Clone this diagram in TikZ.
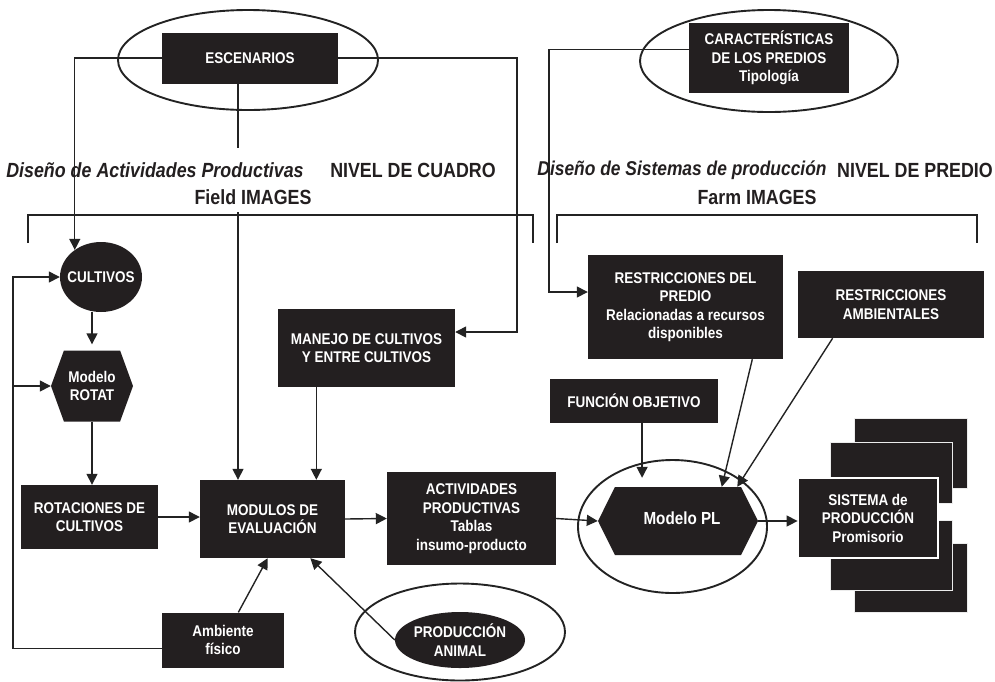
\documentclass[tikz,border=0pt]{standalone}
\usepackage{fontspec}
\newfontfamily\nar[FakeStretch=0.87]{Liberation Sans}
\usetikzlibrary{shapes.geometric,shapes.symbols,arrows.meta}
\definecolor{boxc}{RGB}{35,31,32}
\definecolor{linec}{RGB}{35,35,35}
\begin{document}
\begin{tikzpicture}[x=1pt,y=-1pt,
  box/.style={fill=boxc, text=white, font=\nar\bfseries\fontsize{15.5}{18.5}\selectfont, align=center, inner sep=0pt},
  txt/.style={text=white, font=\nar\bfseries\fontsize{15.5}{18.5}\selectfont, align=center, inner sep=0pt},
  head/.style={text=boxc, font=\nar\bfseries\fontsize{20.5}{24}\selectfont, inner sep=0pt},
  ring/.style={ellipse, draw=linec, line width=1.9pt, inner sep=0pt},
  blob/.style={ellipse, fill=boxc, inner sep=0pt},
  hexa/.style={signal, signal to=east and west, fill=boxc, inner sep=0pt},
  arr/.style={draw=linec, line width=1.4pt, -{Triangle[length=11pt,width=11pt]}},
  ln/.style={draw=linec, line width=1.4pt},
  back/.style={fill=boxc, draw=white!85!gray, line width=0.6pt}
]
\useasboundingbox (0,0) rectangle (995,681);

% top ellipses
\node[ring, minimum width=260, minimum height=100] (escE) at (248,60) {};
\node[box, minimum width=176, minimum height=51] (esc) at (250,58) {ESCENARIOS};
\node[ring, minimum width=258, minimum height=102] (carE) at (769,61) {};
\node[box, minimum width=160, minimum height=70] (car) at (769,58) {CARACTERÍSTICAS\\DE LOS PREDIOS\\Tipología};

% headings
\node[head, font=\nar\bfseries\itshape\fontsize{20.5}{24}\selectfont] (h1) at (155,170) {Diseño de Actividades Productivas};
\node[head] (h2) at (413,170) {NIVEL DE CUADRO};
\node[head] (h3) at (253,197) {Field IMAGES};
\node[head, font=\nar\bfseries\itshape\fontsize{20}{24}\selectfont] (h4) at (682,170) {Diseño de Sistemas de producción};
\node[head] (h5) at (915,170) {NIVEL DE PREDIO};
\node[head] (h6) at (757,197) {Farm IMAGES};

% brackets
\draw[ln] (28,243) -- (28,215) -- (533,215) -- (533,243);
\draw[ln] (557,243) -- (557,215) -- (977,215) -- (977,243);

% left column
\node[blob, minimum width=82, minimum height=70] (cult) at (101,277) {};
\node[txt] at (cult) {CULTIVOS};
\node[hexa, minimum width=82, minimum height=71, signal pointer angle=140] (rot) at (92,386) {};
\node[txt] at (rot) {Modelo\\ROTAT};
\node[box, minimum width=137, minimum height=64] (rotc) at (89.5,517) {ROTACIONES DE\\CULTIVOS};
\node[box, minimum width=145, minimum height=78] (mod) at (272.5,519) {MODULOS DE\\EVALUACIÓN};
\node[box, minimum width=177, minimum height=78] (man) at (366.5,348) {MANEJO DE CULTIVOS\\Y ENTRE CULTIVOS};
\node[box, minimum width=169, minimum height=93] (act) at (471.5,518.5) {ACTIVIDADES\\PRODUCTIVAS\\Tablas\\insumo-producto};
\node[box, minimum width=122, minimum height=55] (amb) at (223,640) {Ambiente\\físico};
\node[ring, minimum width=210, minimum height=97] (prodE) at (460,632) {};
\node[blob, minimum width=130, minimum height=56] (prod) at (460,640) {};
\node[txt] at (prod) {PRODUCCIÓN\\ANIMAL};

% right part
\node[box, minimum width=195, minimum height=104] (rp) at (685.5,307) {RESTRICCIONES DEL\\PREDIO\\Relacionadas a recursos\\disponibles};
\node[box, minimum width=186, minimum height=67] (ra) at (891,304.5) {RESTRICCIONES\\AMBIENTALES};
\node[box, minimum width=168, minimum height=44] (fun) at (634,401) {FUNCIÓN OBJETIVO};
\node[ring, minimum width=189, minimum height=133] (plE) at (672.5,526.5) {};
\node[hexa, minimum width=160, minimum height=68, signal pointer angle=127] (pl) at (678,521) {};
\node[txt, font=\nar\bfseries\fontsize{17.5}{20}\selectfont] at (682,518) {Modelo PL};

% stacked output boxes
\filldraw[back] (854,418) rectangle (967,488);
\filldraw[back] (830,442) rectangle (952,503);
\filldraw[back] (854,543) rectangle (967,612);
\filldraw[back] (830,520) rectangle (952,590);
\node[box, draw=boxc, double=white, double distance=1.3pt, line width=0.8pt, minimum width=140, minimum height=80] (sis) at (868,518) {SISTEMA de\\PRODUCCIÓN\\Promisorio};

% connectors
\draw[arr] (esc.west) -| (cult.134);
\coordinate (r1) at (517,332);
\draw[arr] (esc.east) -| (r1) -- (r1 -| man.east);
\coordinate (g1) at (238,148);
\coordinate (g2) at (238,212);
\draw[ln] (g1 |- esc.south) -- (g1);
\draw[arr] (g2) -- (g2 |- mod.north);
\coordinate (r2) at (549,292);
\draw[arr] (car.174) -| (r2) -- (r2 -| rp.west);
\coordinate (lft) at (13,277);
\coordinate (lb) at (13,386);
\draw[arr] (amb.188) -| (lft) -- (cult.west);
\draw[arr] (lb) -- (rot.west);
\draw[arr, shorten >=6pt] (rot.north |- cult.south) -- (rot.north);
\draw[arr] (rot.south) -- (rot.south |- rotc.north);
\draw[arr] (rotc.east) -- (rotc.east -| mod.west);
\draw[arr] (man.218) -- (man.218 |- mod.north);
\draw[arr] (mod.east) -- (act.west);
\draw[arr] (act.east) -- (pl.west);
\draw[arr] (pl.east) -- (pl.east -| sis.west);
\draw[arr, shorten >=9pt] (fun.290) -- (fun.290 |- pl.north);
\draw[arr] (rp.322) -- (pl.38);
\draw[arr] (ra.210) -- (pl.30);
\draw[arr] (amb.61) -- (mod.263);
\draw[arr] (prod.west) -- (mod.314);
\end{tikzpicture}
\end{document}
